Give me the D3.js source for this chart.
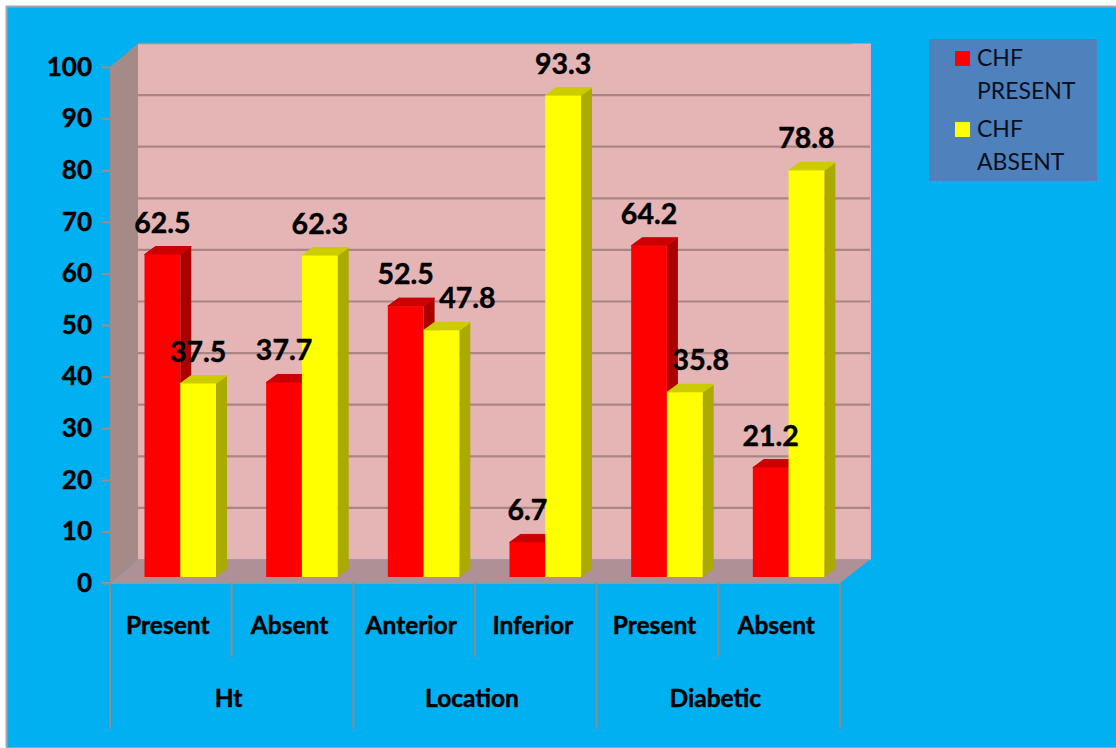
<!DOCTYPE html>
<html><head><meta charset="utf-8">
<script src="https://cdn.jsdelivr.net/npm/d3@7"></script>
<style>html,body{margin:0;padding:0;background:#fff}svg{display:block}text{font-family:Lato,"Open Sans",sans-serif}.b{stroke:#000;stroke-width:.45px}</style>
</head><body><svg id="c" width="1116" height="748"></svg>
<script>
const categories = ["Present","Absent","Anterior","Inferior","Present","Absent"];
const groups = ["Ht","Location","Diabetic"];
const seriesNames = ["CHF PRESENT","CHF ABSENT"];
const chfPresent = [62.5,37.7,52.5,6.7,64.2,21.2];
const chfAbsent = [37.5,62.3,47.8,93.3,35.8,78.8];
const yTicks = [0,10,20,30,40,50,60,70,80,90,100];

const svg = d3.select("#c");
const W=1116,H=748;
svg.append("rect").attr("width",W).attr("height",H).attr("fill","#fff");
svg.append("rect").attr("x",6).attr("y",6).attr("width",W-6).attr("height",H-6).attr("fill","#00B0F0");
svg.append("path").attr("d",`M6.5,${H-1}V6.5H${W}`).attr("fill","none").attr("stroke","#A6A6A6").attr("stroke-width",2);
svg.append("path").attr("d",`M6,${H-0.5}H${W}`).attr("stroke","#8aa5b0").attr("stroke-width",1);

const yFront = d3.scaleLinear([0,100],[583,67]);
const yBack  = d3.scaleLinear([0,100],[559.5,43.5]);
const yBar   = d3.scaleLinear([0,100],[577,61]);
const x0 = d3.scaleBand(d3.range(6),[110,840]);
const x1 = d3.scaleBand([0,1],[34.5,106]);
const frontRight=840, backRight=870, frontLeft=110, backLeft=138;
const pts=a=>a.map(p=>p.join(",")).join(" ");

// walls
svg.append("rect").attr("x",backLeft).attr("y",yBack(100)).attr("width",backRight-backLeft).attr("height",yBack(0)-yBack(100)).attr("fill","#E5B5B5");
svg.append("line").attr("x1",backLeft).attr("x2",backRight-18).attr("y1",yBack(100)).attr("y2",yBack(100)).attr("stroke","#7F9F9F").attr("stroke-width",1.5);
svg.append("line").attr("x1",backRight).attr("x2",backRight).attr("y1",yBack(100)).attr("y2",yBack(0)).attr("stroke","#E8A8C8").attr("stroke-width",2);
svg.selectAll(".grid").data(yTicks.filter(d=>d>0&&d<100)).join("line")
  .attr("x1",backLeft).attr("x2",backRight).attr("y1",d=>yBack(d)).attr("y2",d=>yBack(d))
  .attr("stroke","#A98585").attr("stroke-width",2.2);
svg.append("polygon").attr("fill","#A58B88").attr("points",pts([[frontLeft,yFront(100)],[backLeft,yBack(100)],[backLeft,yBack(0)],[frontLeft,yFront(0)]]));
svg.append("polygon").attr("fill","#AE9096").attr("points",pts([[frontLeft,yFront(0)],[backLeft,yBack(0)],[backRight,yBack(0)],[frontRight,yFront(0)]]));
svg.append("line").attr("x1",frontLeft-8).attr("x2",frontRight).attr("y1",yFront(0)).attr("y2",yFront(0)).attr("stroke","#8C9CA4").attr("stroke-width",2);

// bars
const bd=11, bh=8;
const palette=[{f:"#FF0000",s:"#AA0000",t:"#CC0000"},{f:"#FFFF00",s:"#AAAA00",t:"#CCCC00"}];
[chfPresent,chfAbsent].forEach((vals,si)=>{
  const g=svg.append("g");
  vals.forEach((v,i)=>{
    const l=x0(i)+x1(si), r=l+x1.bandwidth(), t=yBar(v), b=yBar(0), c=palette[si];
    g.append("polygon").attr("fill",c.s).attr("points",pts([[r,t],[r+bd,t-bh],[r+bd,b-bh],[r,b]]));
    g.append("polygon").attr("fill",c.t).attr("stroke",c.t).attr("stroke-linejoin","round").attr("points",pts([[l,t],[l+bd,t-bh],[r+bd,t-bh],[r,t]]));
    g.append("rect").attr("x",l).attr("y",t).attr("width",r-l).attr("height",b-t).attr("fill",c.f);
  });
});

// y axis
const yAxis=d3.axisLeft(yFront).tickValues(yTicks).tickSize(8).tickPadding(10);
const ya=svg.append("g").attr("transform",`translate(${frontLeft},0)`).call(yAxis);
ya.select(".domain").remove();
ya.selectAll("line").attr("stroke","#A08C80").attr("stroke-width",2);
ya.selectAll("text").attr("class","b").attr("font-size",26).attr("font-weight",700).attr("fill","#000").attr("font-family","Lato");

// category axis
const sepColor="#8C8C8C";
d3.range(7).forEach(i=>{
  const x=i<6?x0(i):x0(5)+x0.bandwidth();
  svg.append("line").attr("x1",x).attr("x2",x).attr("y1",yFront(0)).attr("y2",i%2===0?729:657).attr("stroke",sepColor).attr("stroke-width",2);
});
svg.selectAll(".cat").data(categories).join("text").attr("class","b")
  .attr("x",(d,i)=>x0(i)+x0.bandwidth()/2-3).attr("y",634).attr("text-anchor","middle")
  .attr("font-size",24.5).attr("font-weight",700).text(d=>d);
svg.selectAll(".grp").data(groups).join("text").attr("class","b")
  .attr("x",(d,i)=>x0(i*2)+x0.bandwidth()-3).attr("y",707).attr("text-anchor","middle")
  .attr("font-size",24.5).attr("font-weight",700).text(d=>d);

// value labels
const nudge={ "1-2":26, "1-4":16 };
[chfPresent,chfAbsent].forEach((vals,si)=>{
  vals.forEach((v,i)=>{
    svg.append("text").attr("class","b").attr("x",x0(i)+x1(si)+x1.bandwidth()/2+(nudge[si+"-"+i]||0))
      .attr("y",yBar(v)-22).attr("text-anchor","middle").attr("font-size",28.5).attr("font-weight",700).text(v);
  });
});

// legend
const lg=svg.append("g");
lg.append("rect").attr("x",929).attr("y",39).attr("width",168).attr("height",142).attr("fill","#4F81BD");
seriesNames.forEach((n,i)=>{
  const top=51+i*71;
  lg.append("rect").attr("x",955).attr("y",top).attr("width",15).attr("height",15).attr("fill",palette[i].f);
  n.split(" ").forEach((w,j)=>lg.append("text").attr("x",977).attr("y",top+15+j*33).attr("font-size",23).attr("fill","#0a0f1e").text(w));
});
</script></body></html>
